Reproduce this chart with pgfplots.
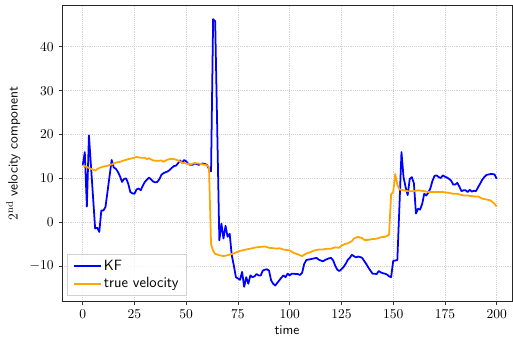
\documentclass[border=0pt]{standalone}
\usepackage{pgfplots}
\pgfplotsset{compat=1.18}

\definecolor{kfblue}{RGB}{0,0,255}
\definecolor{trueorange}{RGB}{255,165,0}

\begin{document}
\begin{tikzpicture}
\begin{axis}[
  name=ax,
  scale only axis,
  width=333pt, height=219pt,
  xmin=-10, xmax=207.4,
  ymin=-18.07, ymax=49.37,
  xtick={0,25,50,75,100,125,150,175,200},
  ytick={-10,0,10,20,30,40},
  tick align=outside,
  xtick pos=bottom, ytick pos=left,
  major tick length=2.6pt,
  tick style={black!80, line width=0.5pt},
  axis line style={black!85, line width=0.6pt},
  grid=major,
  major grid style={densely dotted, gray!35, line width=0.5pt},
  xlabel={\sffamily time},
  ylabel={\sffamily $2^{\mathrm{nd}}$ velocity component},
  xlabel style={yshift=2pt},
  legend style={
    at={(axis description cs:0.012,0.02)}, anchor=south west,
    draw=gray!35, fill=white, fill opacity=0.8, text opacity=1,
    font=\sffamily\fontsize{11}{13}\selectfont, row sep=1pt, inner xsep=4pt, inner ysep=2.5pt,
    nodes={inner sep=1.5pt}
  },
  legend cell align=left,
  legend image code/.code={\draw[#1, line width=1.3pt] (0pt,0pt) -- (20pt,0pt);},
]
\addplot[kfblue, line width=1.3pt, line join=round] coordinates {
(0,13) (1,16) (2,3.6) (3,19.8) (6,-1.4) (7,-1.2) (8,-2.2) (9,2.7) (10,2.7) (11,3.5)
(14,14.2) (15,12.5) (16,12.2) (17,11.5) (18,10.5) (19,9.2) (20,9.9) (21,10) (22,8.8)
(23,6.9) (24,6.6) (25,6.5) (26,7.5) (27,7.7) (28,7.3) (29,8.3) (30,9.2) (31,9.7)
(32,10.2) (33,9.8) (34,9.3) (35,9.1) (36,9.2) (37,9.8) (38,10.8) (39,11.2) (40,11.4)
(41,11.6) (42,11.9) (43,12.4) (44,12.8) (45,12.9) (46,13.4) (47,14.1) (48,13.6)
(49,14.2) (50,13.9) (51,13.3) (52,13.1) (53,13.1) (54,13.4) (55,13.3) (56,13.1)
(57,13.3) (58,13.4) (59,13.3) (60,13.1) (61,12.2) (62,11.6) (63,46.3) (64,45.8)
(66,-4.1) (67,-0.3) (68,-3.7) (69,-0.8) (70,-3.3) (71,-2.6) (72,-7.5) (73,-9.8)
(74,-12.5) (75,-12.8) (76,-13.1) (77,-11.3) (78,-14.7) (79,-12.5) (80,-14) (81,-12.1)
(82,-12.5) (83,-12.3) (84,-11.8) (85,-12.1) (86,-12.1) (87,-11) (88,-10.8) (89,-10.7)
(90,-11) (91,-13.2) (92,-14) (93,-14.4) (94,-13.8) (95,-13.2) (96,-12.6) (97,-12.1)
(98,-12.5) (99,-11.7) (100,-12.1) (101,-11.7) (102,-11.7) (103,-11.8) (104,-11.8)
(105,-12) (106,-11.5) (107,-9.5) (108,-8.6) (109,-8.5) (110,-8.4) (112,-8.2) (113,-8.1)
(114,-8.5) (115,-8.7) (116,-8.9) (117,-8.6) (118,-8.4) (119,-8.2) (120,-8.1) (121,-8.7)
(122,-9.9) (123,-10.8) (124,-11.1) (125,-10.7) (126,-10.2) (127,-9.5) (128,-8.6)
(129,-8.1) (130,-7.4) (131,-7.7) (132,-8) (133,-7.8) (134,-7.9) (135,-8.1) (136,-8.8)
(137,-9.5) (138,-10.3) (139,-11) (140,-11.7) (141,-11.7) (142,-11.8) (143,-11.1)
(144,-11.4) (145,-11.6) (146,-11.7) (147,-11.9) (148,-12.3) (149,-12.5) (150,-8.8)
(151,-8.7) (152,-8.6) (153,3.5) (154,16) (155,10.3) (156,8) (157,6.2) (158,9.9)
(159,10.3) (160,8.9) (161,2) (162,3.1) (163,2.9) (164,4.2) (165,6.5) (166,6.1)
(167,6.8) (168,7.8) (169,9.5) (170,10.6) (171,10.7) (172,10.3) (173,10.1) (174,10.7)
(175,10.4) (176,10.2) (177,9.9) (178,9.5) (179,8.6) (180,8.6) (181,9) (182,8.1)
(183,7.1) (184,7.3) (185,7.3) (186,6.9) (187,7.4) (188,7) (189,7.2) (190,7.1)
(191,8) (192,8.8) (193,9.7) (194,10.3) (195,10.8) (196,10.9) (197,11) (198,11)
(199,10.9) (200,9.9)
};
\addlegendentry{KF}
\addplot[trueorange, line width=1.3pt, line join=round] coordinates {
(0,13) (2,12.6) (4,12.2) (6,11.8) (8,12.4) (10,12.7) (12,12.9) (14,13.2) (16,13.6)
(18,13.8) (20,14.1) (22,14.4) (24,14.6) (26,14.9) (28,14.7) (30,14.7) (31,14.4)
(32,14.6) (34,14.1) (36,14) (38,14.1) (39,13.8) (41,14.3) (43,14.5) (45,14.3)
(46,14.1) (48,13.6) (50,13.4) (52,13.2) (54,13.5) (56,13.4) (58,13.2) (60,13)
(61,12.5) (62,-5) (63,-6.5) (64,-7.2) (66,-7.5) (68,-7.7) (70,-7.5) (72,-7.2)
(74,-6.9) (76,-6.5) (78,-6.3) (80,-6.1) (82,-5.9) (84,-5.7) (86,-5.6) (88,-5.5)
(90,-5.8) (92,-5.9) (94,-6) (95,-5.9) (97,-6.2) (100,-6.4) (102,-7) (104,-7.3)
(106,-7.7) (108,-7.1) (110,-6.8) (112,-6.4) (114,-6.2) (116,-6.2) (118,-6) (120,-6)
(122,-5.7) (124,-5.8) (125,-5.3) (127,-4.9) (128,-4.8) (130,-4.3) (131,-3.7)
(133,-3.3) (135,-3.6) (136,-4) (138,-4) (140,-3.8) (141,-3.8) (143,-3.6) (144,-3.4)
(146,-3.3) (147,-3.1) (148,-2.8) (149,6.4) (150,6.9) (151,11) (152,8.6) (153,7.5)
(155,7.3) (157,7.1) (160,7.1) (162,7.3) (165,7.1) (167,6.9) (170,6.9) (172,6.9)
(174,6.9) (177,6.7) (179,6.5) (181,6.5) (184,6.1) (186,6.1) (189,5.9) (191,5.9)
(193,5.4) (195,5.2) (197,5.0) (199,4.2) (200,3.6)
};
\addlegendentry{true velocity}
\end{axis}
\pgfresetboundingbox
\path[use as bounding box]
  ([shift={(-45.9pt,-29.8pt)}]ax.south west) rectangle ([shift={(0.74pt,4.2pt)}]ax.north east);
\end{tikzpicture}
\end{document}
